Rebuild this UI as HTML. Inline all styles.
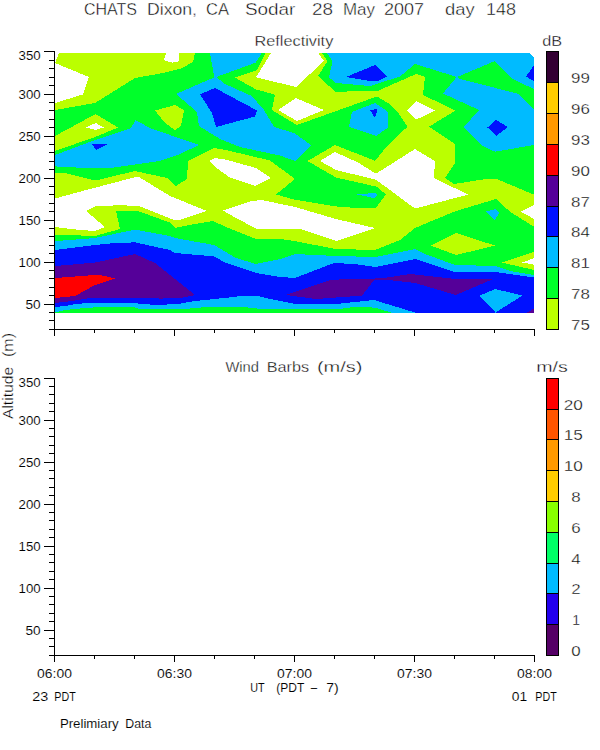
<!DOCTYPE html>
<html><head><meta charset="utf-8"><title>CHATS Dixon, CA Sodar 28 May 2007 day 148</title>
<style>
html,body{margin:0;padding:0;background:#fff;}
svg{display:block;}
text{font-family:"Liberation Sans",sans-serif;fill:#000;stroke:#fff;paint-order:fill stroke;stroke-width:0.3px;}
.t12{stroke-width:0.1px;}
.t16{stroke-width:0.4px;}
.t15{stroke-width:0.35px;}
.t14{stroke-width:0.3px;}
</style></head><body>
<svg width="600" height="750" viewBox="0 0 600 750">
<rect x="0" y="0" width="600" height="750" fill="#fff"/>
<g shape-rendering="crispEdges">
<rect x="55" y="53" width="479" height="259.5" fill="#bbff00"/>
<polygon points="55,110 95,103 135,78 160,73.6 181,68.6 193,62 195,53 265.7,53 257,70 235,77.6 255.7,89.3 275,94.7 272,110 297,125 374,97.5 377.5,96.7 391,105 399,114 407.5,126.7 388,145 375,160.8 335,145 307.5,161 336,177.5 376.7,186.7 386,194.5 376,207.5 356,208 334.7,206.3 294,199.5 276,194.5 295,179 270,160.5 226,150 214,148 188,161 187,179 176,186 167,178 135,171 95,180.6 65,173 55,172.6" fill="#00ff2a"/>
<polygon points="321.7,53 534,53 534,194.7 496,178.7 486,179 454,184 445,178 455,163 455,144 429,126.7 455.5,110.5 423,95 425,77 416,74 377.5,91 335,91.7 318.3,75.8 327.5,61" fill="#00ff2a"/>
<polygon points="55,234.6 95,236 120,229 116,211 138,211 170,222.6 175,228 186,225.6 213,221 226,227 256,239 280,239 294,241 336,249 375,250 390,244 400,240 415,228 434,220 456,211 496,199 510,211.7 534,226.7 534,251.7 501.7,262.5 534,270 534,312.5 55,312.5" fill="#00ff2a"/>
<polygon points="55,136 95.6,114 118,127.6 95,137 55,151" fill="#bbff00"/>
<polygon points="155,110.5 175,105 184,110 181,126 175,130 165,123" fill="#bbff00"/>
<polygon points="431,245.6 456,233 495,245.6 456,255" fill="#bbff00"/>
<polygon points="55,53 59,53 55,63 89,77 83,94.4 55,103" fill="#ffffff"/>
<polygon points="166.7,53 178.7,53 179.3,60 178,61.7 172,62.6 163.3,60" fill="#ffffff"/>
<polygon points="86,127.4 95.6,123 104,127.4 95.6,130" fill="#ffffff"/>
<polygon points="271,53 318.3,53 324,61 296,87 256,77.3" fill="#ffffff"/>
<polygon points="278,110 296,98 324,110 297,121" fill="#ffffff"/>
<polygon points="406.7,110.5 416,101 435,110.5 416,119.7" fill="#ffffff"/>
<polygon points="209,161 215,158 226,159.6 256,168 271,178 255,186 229,177 214,166" fill="#ffffff"/>
<polygon points="55,198.6 75,193 138,176.4 170,196 207,211 179,220 175,220.4 138,205.6 115,205.4 95,206.4 86,211 105,227 95,231 80,230 55,227" fill="#ffffff"/>
<polygon points="223,210.5 252,201 262,200 295,207 336,219 375,228 337,241 300,229 256,228.5 236,218" fill="#ffffff"/>
<polygon points="320,161 335,152 358,162.5 376,173.7 415,149 435,161 434,178 468,194.6 415,208.6 376,179.7 336,170" fill="#ffffff"/>
<polygon points="534,205 521,211.7 534,219" fill="#ffffff"/>
<polygon points="522.5,262.5 534,258 534,264.7" fill="#ffffff"/>
<polygon points="55,155 95,140 131,128 135.6,120 150,128 170,135 199,145 180,154 160,161 135,164.5 110,168 95,168.5 55,166.4" fill="#00bbff"/>
<polygon points="210,53 261.7,53 255.7,62.7 216.2,77 225,84 251.7,96 264,110 274,127 294,133 311,145 295,161 280,155.6 240,147 220,139 199,126 197,112 176,94 214.3,77.3" fill="#00bbff"/>
<polygon points="326.7,53 332.5,61 329,77.5 336,83 370,86 400,76.5 415,64 457,77 495,61 512.5,79 534,89 534,53" fill="#00bbff"/>
<polygon points="457,76.5 443,93.5 479,110 464,127 481,145 495,151.7 534,145 534,110 518,93.7 460,79" fill="#00bbff"/>
<polygon points="352,112 375,103 387.5,111.5 387.5,128 376,136 349,127" fill="#00bbff"/>
<polygon points="356,194.4 375,193 378,195 374,198" fill="#00bbff"/>
<polygon points="486,211.6 496,209 499,213 495,220" fill="#00bbff"/>
<polygon points="55,241 70,240 95,238 135,229.6 170,236 175,238 214,245 236,258 256,264 280,259 295,254 336,256 375,257 390,254 415,249 425,254 455,265 496,266 510,271 534,275 534,312.5 391,312.5 375,307.6 354,307 336,309.4 274,309.4 258,309 256,307.6 206,307 185,309 140,309 135,307.4 95,307.4 85,308 65,310 55,312.4" fill="#00bbff"/>
<polygon points="92,144 108,144 96,150" fill="#0011ff"/>
<polygon points="200,94.4 215,88 257,110.5 255,116.5 216,127 212,113" fill="#0011ff"/>
<polygon points="346,77 375,65 387,76.7 378,81 371.7,81.3" fill="#0011ff"/>
<polygon points="370,110 377.5,109 375,118.3" fill="#0011ff"/>
<polygon points="534,65 526,76.7 534,81" fill="#0011ff"/>
<polygon points="487.5,127.5 496,120 508,127 496,136" fill="#0011ff"/>
<polygon points="55,250 95,245 115,243 135,242.4 170,250 175,253 214,256.4 226,263 256,273 280,277 295,278 334,263 354,264 375,267 390,264 415,259 455,272 496,272 534,277.5 534,312.5 415,312.5 374,300 336,304 295,304 270,299 258,296 244,295.6 230,297.4 195,301 180,303.6 160,305 140,304 135,302.6 95,302.6 75,304 65,306 55,307" fill="#0011ff"/>
<polygon points="479,296 495,289 522.5,295.5 495.5,312.5" fill="#00bbff"/>
<polygon points="55,266 95,262.6 135,254 155,263 195,295 180,298 160,298.6 155,298 95,298 90,298 72,301 55,303" fill="#550099"/>
<polygon points="286,295 332,279.6 375,279 362,295.6 316,299" fill="#550099"/>
<polygon points="375,278.5 384,278 410,274 455,279 493,279 456,295 415,283 384,279.5 375,279.5" fill="#550099"/>
<polygon points="526.7,312.5 534,308.7 534,312.5" fill="#550099"/>
<polygon points="55,278 95,275 100,275 115,278.4 95,285 75,296 55,298" fill="#ff0000"/>
<polygon points="530,53 535,53 535,58.5" fill="#ffffff"/>
</g>
<g shape-rendering="crispEdges" stroke="#000" stroke-width="1">
<line x1="54.5" y1="51" x2="54.5" y2="330"/>
<line x1="54" y1="329.5" x2="535" y2="329.5"/>
<line x1="49" y1="329.5" x2="55" y2="329.5"/>
<line x1="49" y1="320.5" x2="55" y2="320.5"/>
<line x1="49" y1="312.5" x2="55" y2="312.5"/>
<line x1="44" y1="304.5" x2="55" y2="304.5"/>
<line x1="49" y1="295.5" x2="55" y2="295.5"/>
<line x1="49" y1="287.5" x2="55" y2="287.5"/>
<line x1="49" y1="278.5" x2="55" y2="278.5"/>
<line x1="49" y1="270.5" x2="55" y2="270.5"/>
<line x1="44" y1="262.5" x2="55" y2="262.5"/>
<line x1="49" y1="253.5" x2="55" y2="253.5"/>
<line x1="49" y1="245.5" x2="55" y2="245.5"/>
<line x1="49" y1="236.5" x2="55" y2="236.5"/>
<line x1="49" y1="228.5" x2="55" y2="228.5"/>
<line x1="44" y1="220.5" x2="55" y2="220.5"/>
<line x1="49" y1="211.5" x2="55" y2="211.5"/>
<line x1="49" y1="203.5" x2="55" y2="203.5"/>
<line x1="49" y1="194.5" x2="55" y2="194.5"/>
<line x1="49" y1="186.5" x2="55" y2="186.5"/>
<line x1="44" y1="178.5" x2="55" y2="178.5"/>
<line x1="49" y1="169.5" x2="55" y2="169.5"/>
<line x1="49" y1="161.5" x2="55" y2="161.5"/>
<line x1="49" y1="152.5" x2="55" y2="152.5"/>
<line x1="49" y1="144.5" x2="55" y2="144.5"/>
<line x1="44" y1="136.5" x2="55" y2="136.5"/>
<line x1="49" y1="127.5" x2="55" y2="127.5"/>
<line x1="49" y1="119.5" x2="55" y2="119.5"/>
<line x1="49" y1="110.5" x2="55" y2="110.5"/>
<line x1="49" y1="102.5" x2="55" y2="102.5"/>
<line x1="44" y1="94.5" x2="55" y2="94.5"/>
<line x1="49" y1="85.5" x2="55" y2="85.5"/>
<line x1="49" y1="77.5" x2="55" y2="77.5"/>
<line x1="49" y1="68.5" x2="55" y2="68.5"/>
<line x1="49" y1="60.5" x2="55" y2="60.5"/>
<line x1="44" y1="51.5" x2="55" y2="51.5"/>
<line x1="54.5" y1="329.5" x2="54.5" y2="336"/>
<line x1="94.5" y1="329.5" x2="94.5" y2="333"/>
<line x1="134.5" y1="329.5" x2="134.5" y2="333"/>
<line x1="174.5" y1="329.5" x2="174.5" y2="336"/>
<line x1="214.5" y1="329.5" x2="214.5" y2="333"/>
<line x1="254.5" y1="329.5" x2="254.5" y2="333"/>
<line x1="294.5" y1="329.5" x2="294.5" y2="336"/>
<line x1="334.5" y1="329.5" x2="334.5" y2="333"/>
<line x1="374.5" y1="329.5" x2="374.5" y2="333"/>
<line x1="414.5" y1="329.5" x2="414.5" y2="336"/>
<line x1="454.5" y1="329.5" x2="454.5" y2="333"/>
<line x1="494.5" y1="329.5" x2="494.5" y2="333"/>
<line x1="534.5" y1="329.5" x2="534.5" y2="336"/>
<line x1="54.5" y1="378" x2="54.5" y2="656"/>
<line x1="54" y1="655.5" x2="535" y2="655.5"/>
<line x1="49" y1="655.5" x2="55" y2="655.5"/>
<line x1="49" y1="646.5" x2="55" y2="646.5"/>
<line x1="49" y1="638.5" x2="55" y2="638.5"/>
<line x1="44" y1="630.5" x2="55" y2="630.5"/>
<line x1="49" y1="621.5" x2="55" y2="621.5"/>
<line x1="49" y1="613.5" x2="55" y2="613.5"/>
<line x1="49" y1="604.5" x2="55" y2="604.5"/>
<line x1="49" y1="596.5" x2="55" y2="596.5"/>
<line x1="44" y1="588.5" x2="55" y2="588.5"/>
<line x1="49" y1="579.5" x2="55" y2="579.5"/>
<line x1="49" y1="571.5" x2="55" y2="571.5"/>
<line x1="49" y1="562.5" x2="55" y2="562.5"/>
<line x1="49" y1="554.5" x2="55" y2="554.5"/>
<line x1="44" y1="546.5" x2="55" y2="546.5"/>
<line x1="49" y1="537.5" x2="55" y2="537.5"/>
<line x1="49" y1="529.5" x2="55" y2="529.5"/>
<line x1="49" y1="520.5" x2="55" y2="520.5"/>
<line x1="49" y1="512.5" x2="55" y2="512.5"/>
<line x1="44" y1="504.5" x2="55" y2="504.5"/>
<line x1="49" y1="495.5" x2="55" y2="495.5"/>
<line x1="49" y1="487.5" x2="55" y2="487.5"/>
<line x1="49" y1="478.5" x2="55" y2="478.5"/>
<line x1="49" y1="470.5" x2="55" y2="470.5"/>
<line x1="44" y1="462.5" x2="55" y2="462.5"/>
<line x1="49" y1="453.5" x2="55" y2="453.5"/>
<line x1="49" y1="445.5" x2="55" y2="445.5"/>
<line x1="49" y1="436.5" x2="55" y2="436.5"/>
<line x1="49" y1="428.5" x2="55" y2="428.5"/>
<line x1="44" y1="420.5" x2="55" y2="420.5"/>
<line x1="49" y1="411.5" x2="55" y2="411.5"/>
<line x1="49" y1="403.5" x2="55" y2="403.5"/>
<line x1="49" y1="394.5" x2="55" y2="394.5"/>
<line x1="49" y1="386.5" x2="55" y2="386.5"/>
<line x1="44" y1="378.5" x2="55" y2="378.5"/>
<line x1="54.5" y1="655.5" x2="54.5" y2="662"/>
<line x1="94.5" y1="655.5" x2="94.5" y2="659"/>
<line x1="134.5" y1="655.5" x2="134.5" y2="659"/>
<line x1="174.5" y1="655.5" x2="174.5" y2="662"/>
<line x1="214.5" y1="655.5" x2="214.5" y2="659"/>
<line x1="254.5" y1="655.5" x2="254.5" y2="659"/>
<line x1="294.5" y1="655.5" x2="294.5" y2="662"/>
<line x1="334.5" y1="655.5" x2="334.5" y2="659"/>
<line x1="374.5" y1="655.5" x2="374.5" y2="659"/>
<line x1="414.5" y1="655.5" x2="414.5" y2="662"/>
<line x1="454.5" y1="655.5" x2="454.5" y2="659"/>
<line x1="494.5" y1="655.5" x2="494.5" y2="659"/>
<line x1="534.5" y1="655.5" x2="534.5" y2="662"/>
</g>
<g shape-rendering="crispEdges">
<rect x="546" y="51" width="13" height="31" fill="#330033"/>
<rect x="546" y="82" width="13" height="31" fill="#ffcc00"/>
<rect x="546" y="113" width="13" height="31" fill="#ff9900"/>
<rect x="546" y="144" width="13" height="31" fill="#ff0000"/>
<rect x="546" y="175" width="13" height="31" fill="#550099"/>
<rect x="546" y="206" width="13" height="30" fill="#0011ff"/>
<rect x="546" y="236" width="13" height="31" fill="#00bbff"/>
<rect x="546" y="267" width="13" height="31" fill="#00ff2a"/>
<rect x="546" y="298" width="13" height="31" fill="#bbff00"/>
<line x1="546" y1="51.5" x2="559" y2="51.5" stroke="#000"/>
<line x1="546" y1="82.5" x2="559" y2="82.5" stroke="#000"/>
<line x1="546" y1="113.5" x2="559" y2="113.5" stroke="#000"/>
<line x1="546" y1="144.5" x2="559" y2="144.5" stroke="#000"/>
<line x1="546" y1="175.5" x2="559" y2="175.5" stroke="#000"/>
<line x1="546" y1="206.5" x2="559" y2="206.5" stroke="#000"/>
<line x1="546" y1="236.5" x2="559" y2="236.5" stroke="#000"/>
<line x1="546" y1="267.5" x2="559" y2="267.5" stroke="#000"/>
<line x1="546" y1="298.5" x2="559" y2="298.5" stroke="#000"/>
<line x1="546" y1="329.5" x2="559" y2="329.5" stroke="#000"/>
<line x1="546.5" y1="51" x2="546.5" y2="330" stroke="#000"/>
<line x1="558.5" y1="51" x2="558.5" y2="330" stroke="#000"/>
<rect x="546" y="378" width="13" height="31" fill="#ff0000"/>
<rect x="546" y="409" width="13" height="30" fill="#ff5500"/>
<rect x="546" y="439" width="13" height="31" fill="#ff9900"/>
<rect x="546" y="470" width="13" height="31" fill="#ffcc00"/>
<rect x="546" y="501" width="13" height="31" fill="#88ff00"/>
<rect x="546" y="532" width="13" height="31" fill="#00ff66"/>
<rect x="546" y="563" width="13" height="30" fill="#00bbff"/>
<rect x="546" y="593" width="13" height="31" fill="#2200ee"/>
<rect x="546" y="624" width="13" height="31" fill="#550066"/>
<line x1="546" y1="378.5" x2="559" y2="378.5" stroke="#000"/>
<line x1="546" y1="409.5" x2="559" y2="409.5" stroke="#000"/>
<line x1="546" y1="439.5" x2="559" y2="439.5" stroke="#000"/>
<line x1="546" y1="470.5" x2="559" y2="470.5" stroke="#000"/>
<line x1="546" y1="501.5" x2="559" y2="501.5" stroke="#000"/>
<line x1="546" y1="532.5" x2="559" y2="532.5" stroke="#000"/>
<line x1="546" y1="563.5" x2="559" y2="563.5" stroke="#000"/>
<line x1="546" y1="593.5" x2="559" y2="593.5" stroke="#000"/>
<line x1="546" y1="624.5" x2="559" y2="624.5" stroke="#000"/>
<line x1="546" y1="655.5" x2="559" y2="655.5" stroke="#000"/>
<line x1="546.5" y1="378" x2="546.5" y2="656" stroke="#000"/>
<line x1="558.5" y1="378" x2="558.5" y2="656" stroke="#000"/>
</g>
<g>
<text x="84" y="15" font-size="16" textLength="53" lengthAdjust="spacingAndGlyphs" class="t16">CHATS</text>
<text x="147" y="15" font-size="16" textLength="50" lengthAdjust="spacingAndGlyphs" class="t16">Dixon,</text>
<text x="206" y="15" font-size="16" textLength="23" lengthAdjust="spacingAndGlyphs" class="t16">CA</text>
<text x="245" y="15" font-size="16" textLength="50.4" lengthAdjust="spacingAndGlyphs" class="t16">Sodar</text>
<text x="312" y="15" font-size="16" textLength="21" lengthAdjust="spacingAndGlyphs" class="t16">28</text>
<text x="343" y="15" font-size="16" textLength="32" lengthAdjust="spacingAndGlyphs" class="t16">May</text>
<text x="384" y="15" font-size="16" textLength="40" lengthAdjust="spacingAndGlyphs" class="t16">2007</text>
<text x="445" y="15" font-size="16" textLength="29.6" lengthAdjust="spacingAndGlyphs" class="t16">day</text>
<text x="486" y="15" font-size="16" textLength="30" lengthAdjust="spacingAndGlyphs" class="t16">148</text>
<text x="254.5" y="45.6" font-size="15" textLength="78.8" lengthAdjust="spacingAndGlyphs" class="t15">Reflectivity</text>
<text x="542.2" y="46" font-size="15" textLength="19.9" lengthAdjust="spacingAndGlyphs" class="t15">dB</text>
<text x="225.4" y="371.5" font-size="15" textLength="33.6" lengthAdjust="spacingAndGlyphs" class="t15">Wind</text>
<text x="266.7" y="371.5" font-size="15" textLength="42.4" lengthAdjust="spacingAndGlyphs" class="t15">Barbs</text>
<text x="316.9" y="371.5" font-size="15" textLength="45.6" lengthAdjust="spacingAndGlyphs" class="t15">(m/s)</text>
<text x="536.2" y="372" font-size="15" textLength="31.6" lengthAdjust="spacingAndGlyphs" class="t15">m/s</text>
<text x="25.55" y="308.9" font-size="12" textLength="15.15" lengthAdjust="spacingAndGlyphs" class="t12">50</text>
<text x="18.6" y="266.9" font-size="12" textLength="22.1" lengthAdjust="spacingAndGlyphs" class="t12">100</text>
<text x="18.6" y="224.9" font-size="12" textLength="22.1" lengthAdjust="spacingAndGlyphs" class="t12">150</text>
<text x="18.6" y="182.9" font-size="12" textLength="22.1" lengthAdjust="spacingAndGlyphs" class="t12">200</text>
<text x="18.6" y="140.9" font-size="12" textLength="22.1" lengthAdjust="spacingAndGlyphs" class="t12">250</text>
<text x="18.6" y="98.9" font-size="12" textLength="22.1" lengthAdjust="spacingAndGlyphs" class="t12">300</text>
<text x="18.6" y="60.1" font-size="12" textLength="22.1" lengthAdjust="spacingAndGlyphs" class="t12">350</text>
<text x="25.55" y="634.9" font-size="12" textLength="15.15" lengthAdjust="spacingAndGlyphs" class="t12">50</text>
<text x="18.6" y="592.9" font-size="12" textLength="22.1" lengthAdjust="spacingAndGlyphs" class="t12">100</text>
<text x="18.6" y="550.9" font-size="12" textLength="22.1" lengthAdjust="spacingAndGlyphs" class="t12">150</text>
<text x="18.6" y="508.9" font-size="12" textLength="22.1" lengthAdjust="spacingAndGlyphs" class="t12">200</text>
<text x="18.6" y="466.9" font-size="12" textLength="22.1" lengthAdjust="spacingAndGlyphs" class="t12">250</text>
<text x="18.6" y="424.9" font-size="12" textLength="22.1" lengthAdjust="spacingAndGlyphs" class="t12">300</text>
<text x="18.6" y="387.1" font-size="12" textLength="22.1" lengthAdjust="spacingAndGlyphs" class="t12">350</text>
<text x="37.1" y="677.6" font-size="12" textLength="34.8" lengthAdjust="spacingAndGlyphs" class="t12">06:00</text>
<text x="157.1" y="677.6" font-size="12" textLength="34.8" lengthAdjust="spacingAndGlyphs" class="t12">06:30</text>
<text x="277.1" y="677.6" font-size="12" textLength="34.8" lengthAdjust="spacingAndGlyphs" class="t12">07:00</text>
<text x="397.1" y="677.6" font-size="12" textLength="34.8" lengthAdjust="spacingAndGlyphs" class="t12">07:30</text>
<text x="517.1" y="677.6" font-size="12" textLength="34.8" lengthAdjust="spacingAndGlyphs" class="t12">08:00</text>
<text x="32.3" y="700.6" font-size="12" textLength="16" lengthAdjust="spacingAndGlyphs" class="t12">23</text>
<text x="54.3" y="700.6" font-size="12" textLength="21.4" lengthAdjust="spacingAndGlyphs" class="t12">PDT</text>
<text x="511.8" y="700.6" font-size="12" textLength="15.4" lengthAdjust="spacingAndGlyphs" class="t12">01</text>
<text x="535.3" y="700.6" font-size="12" textLength="21.4" lengthAdjust="spacingAndGlyphs" class="t12">PDT</text>
<text x="250.3" y="691.8" font-size="12" textLength="14.4" lengthAdjust="spacingAndGlyphs" class="t12">UT</text>
<text x="276.3" y="691.8" font-size="12" textLength="28" lengthAdjust="spacingAndGlyphs" class="t12">(PDT</text>
<text x="310.8" y="691.8" font-size="12" textLength="6.4" lengthAdjust="spacingAndGlyphs" class="t12">&#8211;</text>
<text x="326.3" y="691.8" font-size="12" textLength="12.4" lengthAdjust="spacingAndGlyphs" class="t12">7)</text>
<text x="59.9" y="727.6" font-size="12" textLength="58.8" lengthAdjust="spacingAndGlyphs" class="t12">Prelimiary</text>
<text x="125.3" y="727.6" font-size="12" textLength="26" lengthAdjust="spacingAndGlyphs" class="t12">Data</text>
<text x="571.1" y="83" font-size="14" textLength="18.8" lengthAdjust="spacingAndGlyphs" class="t14">99</text>
<text x="571.1" y="114" font-size="14" textLength="18.8" lengthAdjust="spacingAndGlyphs" class="t14">96</text>
<text x="571.1" y="145" font-size="14" textLength="18.8" lengthAdjust="spacingAndGlyphs" class="t14">93</text>
<text x="571.1" y="176" font-size="14" textLength="18.8" lengthAdjust="spacingAndGlyphs" class="t14">90</text>
<text x="571.1" y="207" font-size="14" textLength="18.8" lengthAdjust="spacingAndGlyphs" class="t14">87</text>
<text x="571.1" y="237" font-size="14" textLength="18.8" lengthAdjust="spacingAndGlyphs" class="t14">84</text>
<text x="571.1" y="268" font-size="14" textLength="18.8" lengthAdjust="spacingAndGlyphs" class="t14">81</text>
<text x="571.1" y="299" font-size="14" textLength="18.8" lengthAdjust="spacingAndGlyphs" class="t14">78</text>
<text x="571.1" y="330" font-size="14" textLength="18.8" lengthAdjust="spacingAndGlyphs" class="t14">75</text>
<text x="563.8" y="410" font-size="14" textLength="19.1" lengthAdjust="spacingAndGlyphs" class="t14">20</text>
<text x="563.8" y="440" font-size="14" textLength="19.1" lengthAdjust="spacingAndGlyphs" class="t14">15</text>
<text x="563.8" y="471" font-size="14" textLength="19.1" lengthAdjust="spacingAndGlyphs" class="t14">10</text>
<text x="571.3" y="502" font-size="14" textLength="9.4" lengthAdjust="spacingAndGlyphs" class="t14">8</text>
<text x="571.3" y="533" font-size="14" textLength="9.4" lengthAdjust="spacingAndGlyphs" class="t14">6</text>
<text x="571.3" y="564" font-size="14" textLength="9.4" lengthAdjust="spacingAndGlyphs" class="t14">4</text>
<text x="571.3" y="594" font-size="14" textLength="9.4" lengthAdjust="spacingAndGlyphs" class="t14">2</text>
<text x="572.3" y="625" font-size="14">1</text>
<text x="571.3" y="656" font-size="14" textLength="9.4" lengthAdjust="spacingAndGlyphs" class="t14">0</text>
<text transform="translate(13,419.1) rotate(-90)" font-size="15" textLength="52.4" lengthAdjust="spacingAndGlyphs">Altitude</text>
<text transform="translate(13,357) rotate(-90)" font-size="15" textLength="24" lengthAdjust="spacingAndGlyphs">(m)</text>
</g>
</svg>
</body></html>
